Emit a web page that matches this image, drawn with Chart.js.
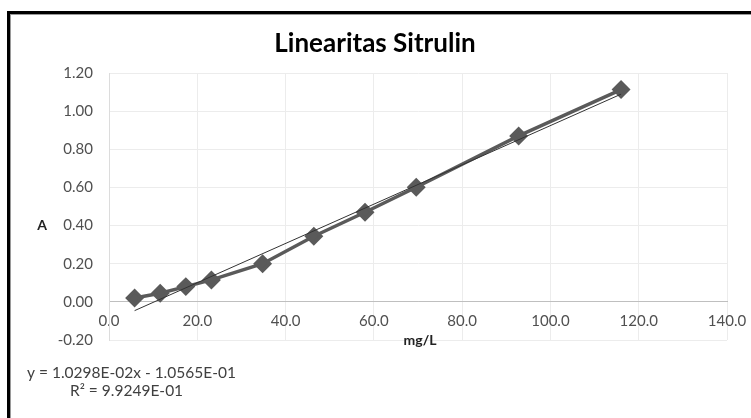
<!DOCTYPE html>
<html>
<head>
<meta charset="utf-8">
<script src="https://cdn.jsdelivr.net/npm/chart.js@4.4.1/dist/chart.umd.min.js"></script>
<style>
  html, body { margin: 0; padding: 0; background: #fff; }
  #wrap { position: relative; width: 751px; height: 418px; }
</style>
</head>
<body>
<div id="wrap"><canvas id="chart" width="751" height="418"></canvas></div>
<script>
/* data */
var conc = [5.8, 11.6, 17.4, 23.2, 34.8, 46.4, 58.0, 69.6, 92.8, 116.0];
var absorb = [0.020, 0.045, 0.080, 0.115, 0.200, 0.344, 0.470, 0.601, 0.870, 1.113];
// linear trendline end points (as shown on the chart)
var trendX = [5.8, 116.0];
var trendY = [-0.046, 1.089];

var chartTitle = 'Linearitas Sitrulin';
var xTitle = 'mg/L';
var yTitle = 'A';
var eqLines = ['y = 1.0298E-02x - 1.0565E-01', 'R\u00b2 = 9.9249E-01'];

var font = 'Lato, "Open Sans", sans-serif';

var pts = conc.map(function (x, i) { return {x: x, y: absorb[i]}; });
var trendPts = trendX.map(function (x, i) { return {x: x, y: trendY[i]}; });

// frame, title, axis titles and equation text
var extras = {
  id: 'extras',
  beforeDraw: function (chart) {
    var ctx = chart.ctx;
    ctx.save();
    ctx.fillStyle = '#fff';
    ctx.fillRect(0, 0, chart.width, chart.height);
    // excel-ish frame (only top and left visible)
    ctx.fillStyle = '#000';
    ctx.fillRect(7, 11, chart.width - 7, 3);
    ctx.fillRect(7, 11, 3, chart.height - 11);
    ctx.fillStyle = '#9a9a9a';
    ctx.fillRect(10, 14, chart.width - 10, 1);
    ctx.fillRect(10, 14, 1, chart.height - 14);
    ctx.restore();
  },
  afterDraw: function (chart) {
    var ctx = chart.ctx;
    var a = chart.chartArea;
    ctx.save();
    ctx.fillStyle = '#000';
    ctx.textAlign = 'center';
    ctx.textBaseline = 'middle';
    ctx.font = 'bold 26px ' + font;
    ctx.fillText(chartTitle, 375, 44);
    ctx.fillStyle = '#222';
    ctx.font = 'bold 14px ' + font;
    ctx.fillText(yTitle, 42, 225);
    ctx.fillText(xTitle, (a.left + a.right) / 2 + 2, 340);
    ctx.fillStyle = '#404040';
    ctx.font = '15.5px ' + font;
    ctx.textAlign = 'left';
    ctx.fillText(eqLines[0], 27, 373);
    ctx.fillText(eqLines[1], 70, 391);
    ctx.restore();
  }
};

new Chart(document.getElementById('chart'), {
  type: 'scatter',
  data: {
    datasets: [
      {
        label: 'A',
        data: pts,
        showLine: true,
        borderColor: '#5a5a5a',
        backgroundColor: '#5a5a5a',
        borderWidth: 3.5,
        pointStyle: 'rectRot',
        pointRadius: 7,
        pointHoverRadius: 7,
        order: 2
      },
      {
        label: 'Linear (A)',
        data: trendPts,
        showLine: true,
        borderColor: '#333',
        borderWidth: 1,
        pointRadius: 0,
        order: 1
      }
    ]
  },
  options: {
    responsive: false,
    animation: false,
    layout: { padding: { left: 39, top: 73, right: 24, bottom: 78 } },
    plugins: {
      legend: { display: false },
      title: { display: false },
      tooltip: { enabled: false }
    },
    scales: {
      x: {
        type: 'linear',
        position: { y: 0 },
        min: 0,
        max: 140,
        afterFit: function (s) { s.paddingRight = 0; s.paddingLeft = 0; },
        ticks: {
          stepSize: 20,
          padding: 10,
          color: '#505050',
          font: { family: font, size: 15 },
          callback: function (v) { return v.toFixed(1); }
        },
        grid: { color: '#ececec', drawTicks: false },
        border: { color: '#bfbfbf' }
      },
      y: {
        min: -0.2,
        max: 1.2,
        afterFit: function (s) { s.width = 70; },
        ticks: {
          stepSize: 0.2,
          padding: 16,
          color: '#505050',
          font: { family: font, size: 15 },
          callback: function (v) { return (Math.abs(v) < 1e-9 ? 0 : v).toFixed(2); }
        },
        grid: {
          drawTicks: false,
          color: function (c) { return Math.abs(c.tick.value) < 1e-9 ? '#bfbfbf' : '#ececec'; }
        },
        border: { color: '#dcdcdc' }
      }
    }
  },
  plugins: [extras]
});
</script>
</body>
</html>
